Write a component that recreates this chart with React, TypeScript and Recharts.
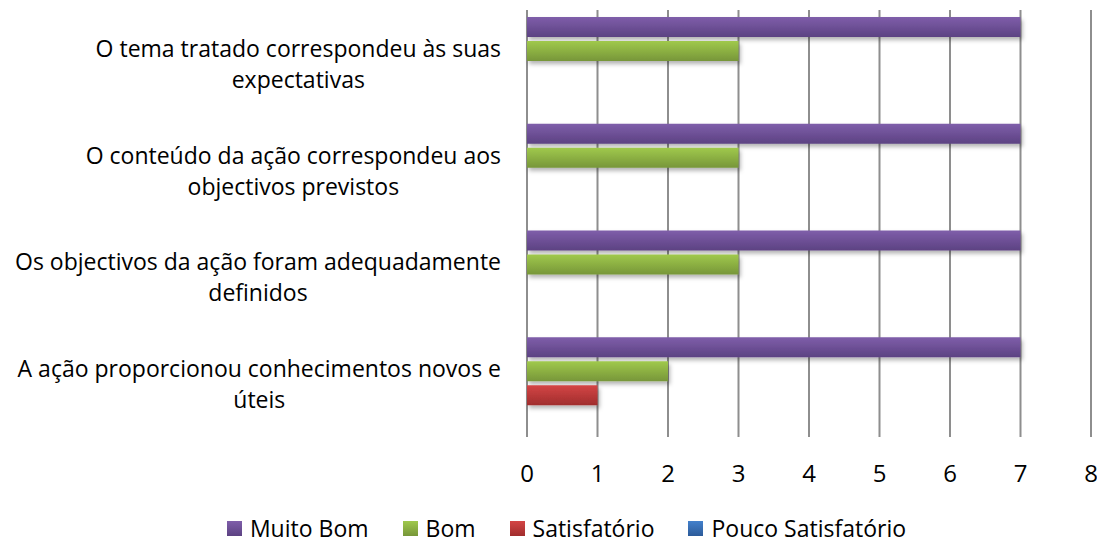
import React from "react";
import { BarChart, Bar, XAxis, YAxis, CartesianGrid, Legend } from "recharts";

const categories = [
  "O tema tratado correspondeu às suas\nexpectativas",
  "O conteúdo da ação correspondeu aos\nobjectivos previstos",
  "Os objectivos da ação foram adequadamente\ndefinidos",
  "A ação proporcionou conhecimentos novos e\núteis",
];
const muitoBom = [7, 7, 7, 7];
const bom = [3, 3, 3, 2];
const satisfatorio = [0, 0, 0, 1];
const poucoSatisfatorio = [0, 0, 0, 0];
const xTicks = [0, 1, 2, 3, 4, 5, 6, 7, 8];

const seriesNames = ["Muito Bom", "Bom", "Satisfatório", "Pouco Satisfatório"];
const seriesKeys = ["muitoBom", "bom", "satisfatorio", "poucoSatisfatorio"];
const gradTop = ["#7f5eaa", "#a0c94c", "#d44545", "#4380cc"];
const gradBottom = ["#5c4282", "#779639", "#a02d2d", "#2c5b99"];

const data = categories.map((c, i) => ({
  name: c,
  muitoBom: muitoBom[i],
  bom: bom[i],
  satisfatorio: satisfatorio[i],
  poucoSatisfatorio: poucoSatisfatorio[i],
}));

const FONT = '"Open Sans", sans-serif';
const LABEL_SIZE = 23;

let ctx: CanvasRenderingContext2D | null = null;
function measure(text: string, size: number) {
  if (!ctx) {
    const c = document.createElement("canvas");
    ctx = c.getContext("2d");
  }
  if (!ctx) return text.length * size * 0.5;
  ctx.font = `${size}px "Open Sans"`;
  return ctx.measureText(text).width;
}

const YTick = (props: any) => {
  const { x, y, payload } = props;
  const lines = String(payload.value).split("\n");
  const maxW = Math.max(...lines.map((l) => measure(l, LABEL_SIZE)));
  const cx = x - maxW / 2;
  const lh = 31;
  return (
    <g>
      {lines.map((l, i) => (
        <text
          key={i}
          x={cx}
          y={y + (i - (lines.length - 1) / 2) * lh}
          textAnchor="middle"
          dominantBaseline="central"
          fontFamily={FONT}
          fontSize={LABEL_SIZE}
          fill="#000"
        >
          {l}
        </text>
      ))}
    </g>
  );
};

const LegendContent = () => (
  <div
    style={{
      display: "flex",
      justifyContent: "center",
      alignItems: "center",
      paddingLeft: 20,
      height: 30,
      fontFamily: FONT,
      fontSize: 23,
      color: "#000",
    }}
  >
    {seriesNames.map((n, i) => (
      <div key={n} style={{ display: "flex", alignItems: "center", marginRight: i < 3 ? 34 : 0 }}>
        <div
          style={{
            width: 15,
            height: 15,
            marginRight: 8,
            background: `linear-gradient(${gradTop[i]}, ${gradBottom[i]})`,
          }}
        />
        <span>{n}</span>
      </div>
    ))}
  </div>
);

export default function App() {
  return (
    <BarChart
      width={1097}
      height={535}
      data={data}
      layout="vertical"
      margin={{ top: 2, right: 14, bottom: 16, left: 0 }}
      barSize={20}
      barGap={4}
    >
      <defs>
        {seriesKeys.map((k, i) => (
          <linearGradient key={k} id={`grad-${k}`} x1="0" y1="0" x2="0" y2="1">
            <stop offset="0%" stopColor={gradTop[i]} />
            <stop offset="100%" stopColor={gradBottom[i]} />
          </linearGradient>
        ))}
        <filter id="barShadow" x="-5%" y="-30%" width="115%" height="190%">
          <feDropShadow dx="2" dy="3" stdDeviation="2" floodColor="#000" floodOpacity="0.3" />
        </filter>
      </defs>
      <CartesianGrid horizontal={false} stroke="#8e8e8e" strokeWidth={2} />
      <XAxis
        type="number"
        domain={[0, 8]}
        ticks={xTicks}
        axisLine={false}
        tickLine={false}
        tickMargin={22}
        height={60}
        tick={{ fontFamily: FONT, fontSize: 24, fill: "#000" }}
      />
      <YAxis
        type="category"
        dataKey="name"
        width={519}
        axisLine={false}
        tickLine={false}
        tickMargin={20}
        tick={<YTick />}
        interval={0}
      />
      <Legend
        content={<LegendContent />}
        wrapperStyle={{ left: 0, width: 1097, height: 30, bottom: 0 }}
      />
      {seriesKeys.map((k, i) => (
        <Bar
          key={k}
          dataKey={k}
          name={seriesNames[i]}
          fill={`url(#grad-${k})`}
          filter="url(#barShadow)"
          isAnimationActive={false}
        />
      ))}
    </BarChart>
  );
}
